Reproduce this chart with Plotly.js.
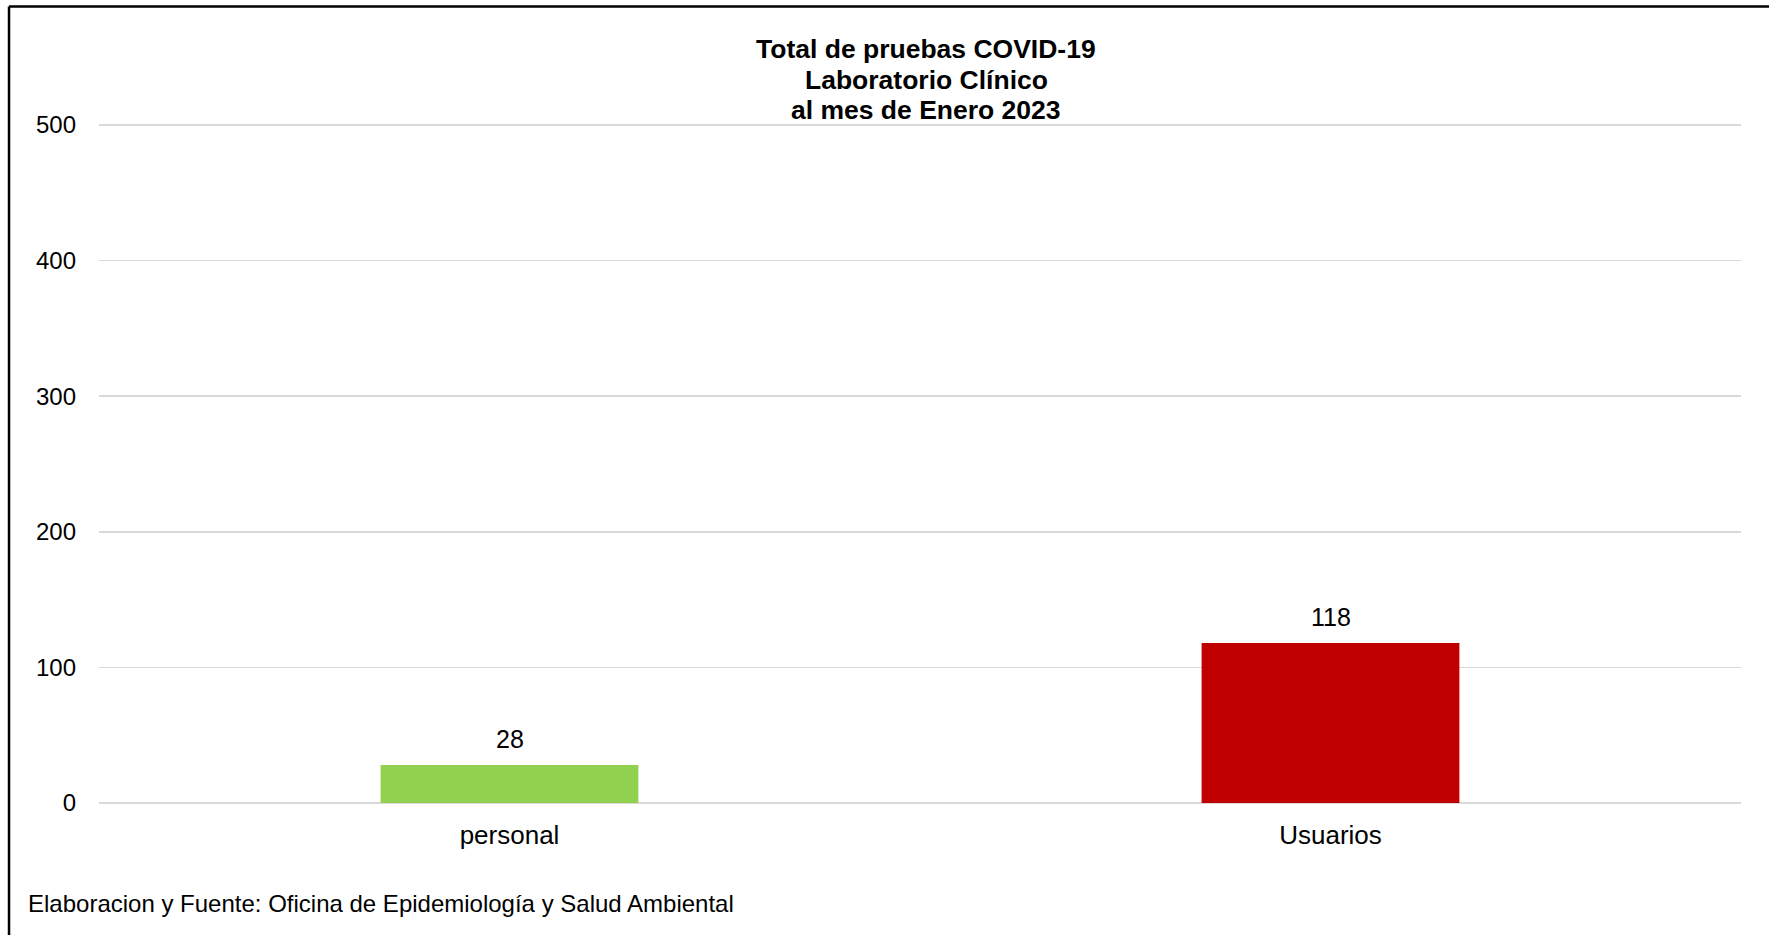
<!DOCTYPE html>
<html>
<head>
<meta charset="utf-8">
<script src="https://cdn.plot.ly/plotly-3.0.1.min.js"></script>
<style>
  html, body { margin: 0; padding: 0; background: #ffffff; }
  #chart { width: 1769px; height: 935px; }
</style>
</head>
<body>
<div id="chart"></div>
<script>
const categories = ["personal", "Usuarios"];
const values = [28, 118];
const barColors = ["#92d050", "#c00000"];
const yTickValues = [0, 100, 200, 300, 400, 500];
const titleLines = ["Total de pruebas COVID-19", "Laboratorio Clínico", "al mes de Enero 2023"];
const footerText = "Elaboracion y Fuente: Oficina de Epidemiología y Salud Ambiental";

const FONT = "Liberation Sans, Arial, Helvetica, sans-serif";

// plot area: top 122px, bottom 803px
const PLOT_TOP = 122, PLOT_BOTTOM = 803;
const toPaperY = py => (PLOT_BOTTOM - py) / (PLOT_BOTTOM - PLOT_TOP);
const titleLineY = [49, 79.5, 110];

const trace = {
  type: "bar",
  x: categories,
  y: values,
  marker: { color: barColors, line: { width: 0 } },
  hoverinfo: "x+y",
  showlegend: false
};

const labelAnnotations = categories.map((c, i) => ({
  x: c, y: values[i], xref: "x", yref: "y",
  text: String(values[i]),
  showarrow: false,
  yanchor: "bottom",
  yshift: 10,
  font: { family: FONT, size: 25, color: "#000000" }
}));

const titleAnnotations = titleLines.map((t, i) => ({
  xref: "paper", yref: "paper", x: 0.5037, y: toPaperY(titleLineY[i]),
  xanchor: "center", yanchor: "middle", showarrow: false,
  text: "<b>" + t + "</b>",
  font: { family: FONT, size: 26.5, color: "#000000" }
}));

const layout = {
  width: 1769,
  height: 935,
  paper_bgcolor: "#ffffff",
  plot_bgcolor: "#ffffff",
  margin: { l: 99, r: 28, t: PLOT_TOP, b: 935 - PLOT_BOTTOM, pad: 0 },
  font: { family: FONT, size: 24, color: "#000000" },
  bargap: 0.686,
  xaxis: {
    type: "category",
    showgrid: false,
    showline: false,
    zeroline: false,
    ticks: "",
    ticklabelstandoff: 14,
    tickfont: { family: FONT, size: 26, color: "#000000" },
    fixedrange: true
  },
  yaxis: {
    range: [0, 502.2],
    tickvals: yTickValues,
    ticktext: yTickValues.map(String),
    showgrid: true,
    gridcolor: "#d9d9d9",
    gridwidth: 1.5,
    zeroline: true,
    zerolinecolor: "#d9d9d9",
    zerolinewidth: 2,
    showline: false,
    ticks: "",
    ticklabelstandoff: 22,
    tickfont: { family: FONT, size: 24, color: "#000000" },
    fixedrange: true
  },
  shapes: [
    { type: "line", xref: "paper", yref: "paper",
      x0: -0.0548, x1: 1.1, y0: toPaperY(6.5), y1: toPaperY(6.5),
      line: { color: "#000000", width: 2.5 } },
    { type: "line", xref: "paper", yref: "paper",
      x0: -0.0548, x1: -0.0548, y0: toPaperY(6.5), y1: -0.3,
      line: { color: "#000000", width: 2.5 } }
  ],
  annotations: labelAnnotations.concat(titleAnnotations).concat([
    { xref: "paper", yref: "paper", x: -0.0445, y: toPaperY(903),
      xanchor: "left", yanchor: "middle", showarrow: false,
      text: footerText,
      font: { family: FONT, size: 24, color: "#000000" } }
  ])
};

Plotly.newPlot("chart", [trace], layout, { displayModeBar: false, staticPlot: true });
</script>
</body>
</html>
